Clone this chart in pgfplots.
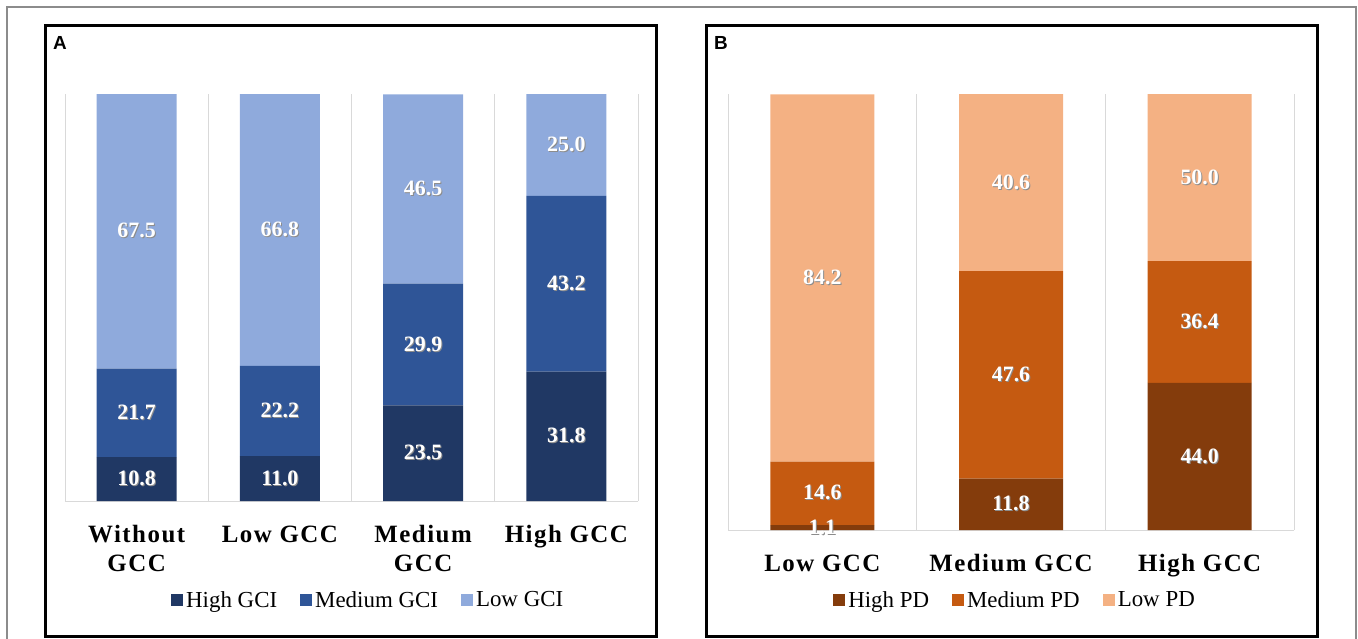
\documentclass[border=0pt]{standalone}
\usepackage{fontspec}
\setmainfont{Liberation Serif}
\newfontfamily\panelfont{Liberation Sans}
\newfontfamily\tickfont[LetterSpace=6]{Liberation Serif}
\usepackage{pgfplots}
\usepackage{pgfplotstable}
\pgfplotsset{compat=1.18}

\definecolor{aHigh}{HTML}{203864}
\definecolor{aMed}{HTML}{2F5597}
\definecolor{aLow}{HTML}{8FAADC}
\definecolor{bHigh}{HTML}{843C0C}
\definecolor{bMed}{HTML}{C55A11}
\definecolor{bLow}{HTML}{F4B183}
\definecolor{gridc}{HTML}{D9D9D9}
\definecolor{outerc}{HTML}{8C8C8C}

% Panel A: shares (percent) of High / Medium / Low GCI
\pgfplotstableread{
x hi me lo
0 10.8 21.7 67.5
1 11.0 22.2 66.8
2 23.5 29.9 46.5
3 31.8 43.2 25.0
}\tabA

% Panel B: bar heights (100% stacked) and printed labels
\pgfplotstableread{
x hhi hme hlo lhi lme llo
0 1.1 14.6 84.2 1.1 14.6 84.2
1 11.8 47.6 40.6 11.8 47.6 40.6
2 33.74 27.91 38.34 44.0 36.4 50.0
}\tabB

\pgfplotsset{
  panel/.style={
    scale only axis,
    ybar stacked,
    ymin=0, ymax=100,
    axis x line*=bottom,
    axis y line=none,
    x axis line style={draw=gridc, line width=1bp},
    xtick=data,
    major tick length=0pt, minor tick length=0pt,
    xminorgrids, minor grid style={draw=gridc, line width=1bp},
    xticklabel style={font=\tickfont\bfseries\fontsize{25}{29}\selectfont, align=center, anchor=north, yshift=-21bp},
    point meta=explicit symbolic,
    nodes near coords={\rlap{\kern1bp\raisebox{-1bp}{\textcolor{black!45}{\pgfplotspointmeta}}}\pgfplotspointmeta},
    every node near coord/.append style={font=\bfseries\fontsize{22}{26}\selectfont, text=white, anchor=center},
    legend columns=3,
    legend style={draw=none, fill=none, font=\fontsize{23}{27}\selectfont,
      /tikz/every even column/.append style={column sep=20bp},
      nodes={inner xsep=3bp}},
    legend image code/.code={\draw[#1,draw=none] (0bp,-6bp) rectangle (12bp,6bp);},
    clip=false,
  }
}

\begin{document}
\begin{tikzpicture}
\useasboundingbox (0,0) rectangle (1358bp,-639bp);

% Panel A
\begin{axis}[panel,
  at={(65bp,-501bp)}, anchor=south west,
  width=573bp, height=407bp,
  xmin=-0.5, xmax=3.5,
  minor xtick={-0.5,0.5,1.5,2.5,3.5},
  bar width=80bp,
  xticklabels={{Without\\GCC},{Low GCC},{Medium\\GCC},{High GCC}},
  legend style={at={(0.53,-0.243)}, anchor=center},
]
\addplot[fill=aHigh, draw=none] table[x=x, y=hi, meta=hi] {\tabA};
\addplot[fill=aMed, draw=none] table[x=x, y=me, meta=me] {\tabA};
\addplot[fill=aLow, draw=none] table[x=x, y=lo, meta=lo] {\tabA};
\legend{High GCI, Medium GCI, Low GCI}
\end{axis}

% Panel B
\begin{axis}[panel,
  at={(728bp,-530bp)}, anchor=south west,
  width=566bp, height=436bp,
  xmin=-0.5, xmax=2.5,
  minor xtick={-0.5,0.5,1.5,2.5},
  bar width=104bp,
  xticklabels={{Low GCC},{Medium GCC},{High GCC}},
  legend style={at={(0.508,-0.1606)}, anchor=center},
]
\addplot[fill=bHigh, draw=none] table[x=x, y=hhi, meta=lhi] {\tabB};
\addplot[fill=bMed, draw=none] table[x=x, y=hme, meta=lme] {\tabB};
\addplot[fill=bLow, draw=none] table[x=x, y=hlo, meta=llo] {\tabB};
\legend{High PD, Medium PD, Low PD}
\end{axis}

% frames
\draw[outerc, line width=1.5bp] (7bp,-7bp) rectangle (1356bp,-660bp);
\draw[black, line width=3bp] (45bp,-25bp) rectangle (656.5bp,-636bp);
\draw[black, line width=3bp] (706bp,-25bp) rectangle (1317.5bp,-636bp);
\node[anchor=base west, font=\panelfont\bfseries\fontsize{19}{21}\selectfont, inner sep=0pt] at (53bp,-49bp) {A};
\node[anchor=base west, font=\panelfont\bfseries\fontsize{19}{21}\selectfont, inner sep=0pt] at (714bp,-49bp) {B};
\end{tikzpicture}
\end{document}
